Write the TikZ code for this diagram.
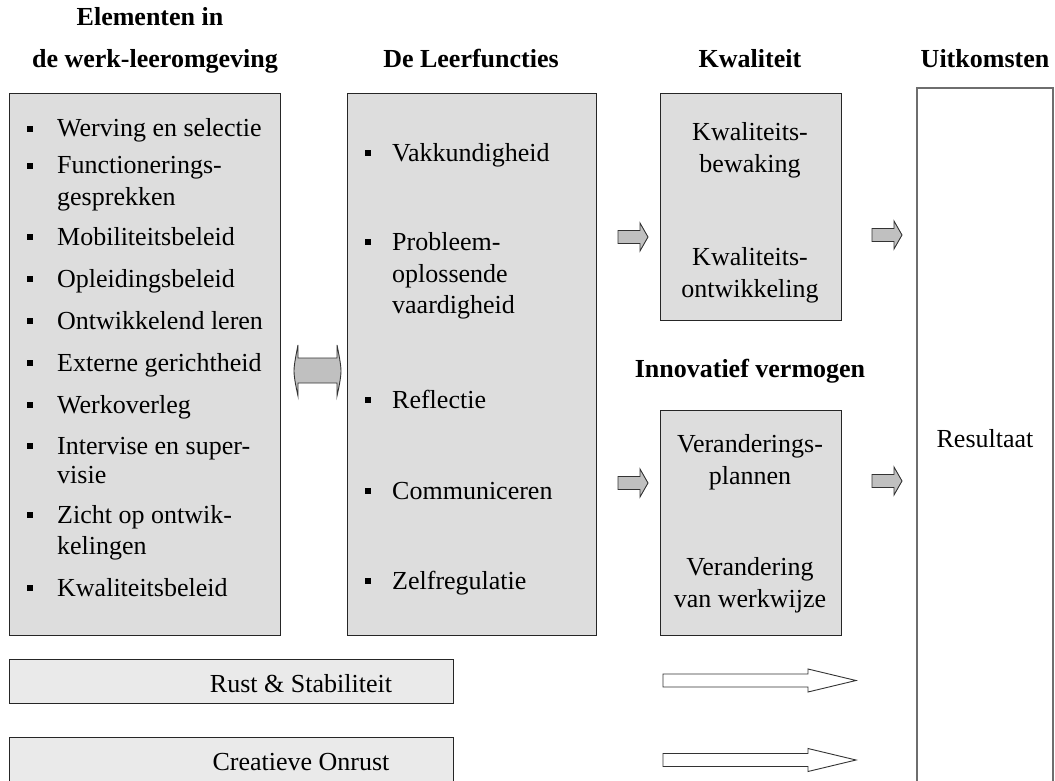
\documentclass[tikz,border=0pt]{standalone}
\usepackage{fontspec}
\setmainfont{Liberation Serif}
\begin{document}
\definecolor{boxgray}{RGB}{221,221,221}
\definecolor{barfill}{RGB}{234,234,234}
\definecolor{arrowgray}{RGB}{192,192,192}
\definecolor{edgegray}{RGB}{110,110,110}
\begin{tikzpicture}[x=1pt,y=-1pt,
  panel/.style={draw=black!85,line width=1pt,fill=boxgray},
  bar/.style={draw=black!85,line width=1pt,fill=barfill},
  outcome/.style={draw=edgegray,line width=1.2pt,fill=white},
  body/.style={font=\fontsize{26}{30}\selectfont,inner sep=0pt},
  head/.style={font=\fontsize{26}{30}\selectfont\bfseries,inner sep=0pt},
  bullet/.style={fill=black,inner sep=0pt,minimum size=6.5pt},
  blockarrow/.style={draw=black!80,line width=0.9pt,fill=arrowgray,line join=miter},
  longarrow/.style={draw=black!80,line width=0.9pt,fill=white,line join=miter},
  pics/smallarrow/.style={code={
    \draw[blockarrow] (0,-6.5) -- (22,-6.5) -- (22,-14) -- (30,0) -- (22,14)
      -- (22,6.5) -- (0,6.5) -- cycle;}},
  pics/widearrow/.style={code={
    \draw[longarrow] (0,-6.5) -- (145,-6.5) -- (145,-11.5) -- (193,0) -- (145,11.5)
      -- (145,6.5) -- (0,6.5) -- cycle;}}
]
\useasboundingbox (0,0) rectangle (1055,781);

% column panels
\path[panel] (9,94) rectangle (280,635);
\path[panel] (347,94) rectangle (596,635);
\path[panel] (660,94) rectangle (841,320);
\path[panel] (660,410) rectangle (841,635);
\path[outcome] (917,88) rectangle (1053,800);

% bottom bars
\path[bar] (9,659) rectangle (453,703);
\path[bar] (9,737) rectangle (453,800);

% column headings
\node[head,anchor=base] (h1a) at (150,26) {Elementen in};
\node[head,anchor=base] (h1b) at (155,68) {de werk-leeromgeving};
\node[head,anchor=base] (h2) at (471,68) {De Leerfuncties};
\node[head,anchor=base] (h3) at (750,68) {Kwaliteit};
\node[head,anchor=base] (h4) at (985,68) {Uitkomsten};
\node[head,anchor=base] (h5) at (750,377) {Innovatief vermogen};

% work and learning environment
\foreach \t/\y [count=\i] in {Werving en selectie/137,Functionerings-/174,
    Mobiliteitsbeleid/245,Opleidingsbeleid/287,Ontwikkelend leren/329,
    Externe gerichtheid/371,Werkoverleg/413,Intervise en super-/454,
    Zicht op ontwik-/523,Kwaliteitsbeleid/596}{
  \node[body,anchor=base west] (e\i) at (57,\y) {\t};
  \node[bullet] (eb\i) at (30,\y-8) {};
}
\node[body,anchor=base west] (e2b) at (57,205) {gesprekken};
\node[body,anchor=base west] (e8b) at (57,483) {visie};
\node[body,anchor=base west] (e9b) at (57,554) {kelingen};

% learning functions
\foreach \t/\y [count=\i] in {Vakkundigheid/161,Probleem-/250,Reflectie/408,
    Communiceren/499,Zelfregulatie/589}{
  \node[body,anchor=base west] (f\i) at (392,\y) {\t};
  \node[bullet] (fb\i) at (368,\y-8) {};
}
\node[body,anchor=base west] (f2b) at (392,282) {oplossende};
\node[body,anchor=base west] (f2c) at (392,313) {vaardigheid};

% quality
\node[body,anchor=base] (k1) at (750,141) {Kwaliteits-};
\node[body,anchor=base] (k1b) at (750,172) {bewaking};
\node[body,anchor=base] (k2) at (750,265) {Kwaliteits-};
\node[body,anchor=base] (k2b) at (750,297) {ontwikkeling};

% innovative capacity
\node[body,anchor=base] (v1) at (750,452) {Veranderings-};
\node[body,anchor=base] (v1b) at (750,484) {plannen};
\node[body,anchor=base] (v2) at (750,575) {Verandering};
\node[body,anchor=base] (v2b) at (750,607) {van werkwijze};

% outcome
\node[body,anchor=base] (res) at (985,447) {Resultaat};

% bars
\node[body,anchor=base] (rust) at (301,692) {Rust \& Stabiliteit};
\node[body,anchor=base] (onrust) at (301,770) {Creatieve Onrust};

% two-way link between environment and learning functions
\draw[blockarrow] (298,345) .. controls (296,355) and (294,365) .. (294,371)
  .. controls (294,377) and (296,387) .. (298,396) -- (298,383) -- (337,383)
  -- (337,396) .. controls (339,387) and (341,377) .. (341,371)
  .. controls (341,365) and (339,355) .. (337,345) -- (337,358) -- (298,358) -- cycle;

% flow arrows
\pic at (618,237) {smallarrow};
\pic at (872,235) {smallarrow};
\pic at (618,483) {smallarrow};
\pic at (872,481) {smallarrow};
\pic at (663,680.5) {widearrow};
\pic at (663,760) {widearrow};
\end{tikzpicture}
\end{document}
